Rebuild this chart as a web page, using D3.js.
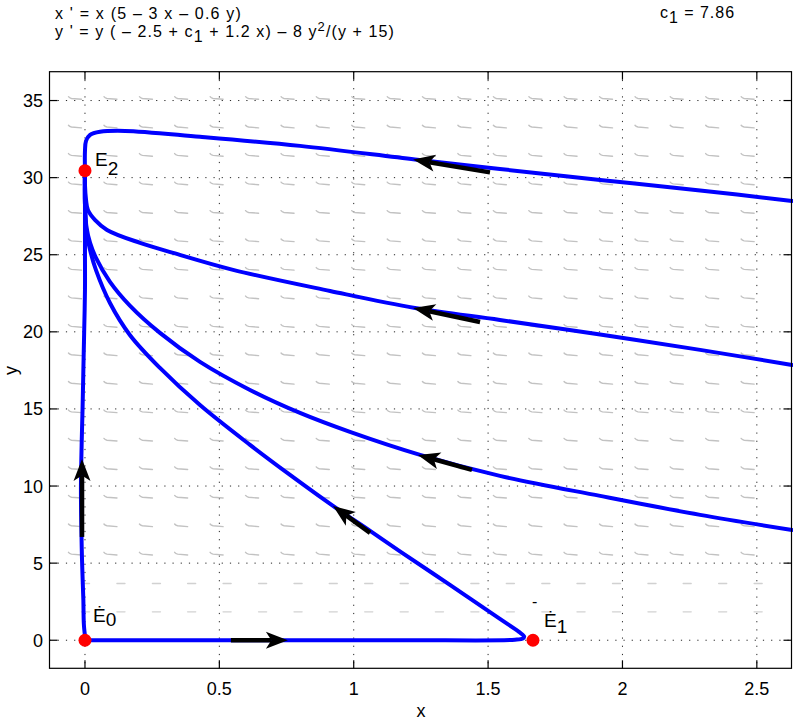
<!DOCTYPE html>
<html><head><meta charset="utf-8">
<script src="https://cdn.jsdelivr.net/npm/d3@7"></script>
<style>
body{margin:0;background:#fff}
svg{display:block}
text{font-family:"Liberation Sans",Arial,Helvetica,sans-serif;fill:#000}
</style>
</head><body><svg id="c" width="793" height="720"></svg>
<script>
// ---------- data ----------
const xDomain=[-0.132,2.629];
const yDomain=[-1.82,36.87];
const xTicks=[0,0.5,1,1.5,2,2.5];
const xTickLabels=["0","0.5","1","1.5","2","2.5"];
const yTicks=[0,5,10,15,20,25,30,35];
const yTickLabels=["0","5","10","15","20","25","30","35"];

// direction-field grid
const fieldX=[-0.013,0.119,0.251,0.382,0.514,0.646,0.778,0.909,1.041,1.173,1.304,1.436,1.568,1.700,1.831,1.963,2.095,2.226,2.358,2.490];
const fieldY=[1.84,3.68,5.53,7.37,9.22,11.07,12.92,14.76,16.61,18.46,20.30,22.15,24.00,25.85,27.69,29.54,31.39,33.23,35.08];

// trajectories (x, y)
const traj1=[[2.631,28.49],[2.289,29.17],[1.917,29.85],[1.544,30.56],[1.228,31.18],[0.800,32.06],[0.428,32.65],[0.149,33.03],[0.056,32.97],[0.019,32.77],[0.004,32.38],[0.0,31.73],[0.0,30.47]];
const traj2=[[2.631,17.85],[2.289,18.83],[1.917,19.83],[1.544,20.77],[1.228,21.55],[0.912,22.65],[0.551,24.02],[0.328,25.12],[0.205,25.77],[0.082,26.61],[0.037,27.26],[0.011,27.90],[0.004,28.55],[0.0,29.52],[0.0,30.43]];
const traj3=[[2.631,7.15],[2.289,8.13],[1.917,9.36],[1.544,10.66],[1.247,12.02],[0.986,13.51],[0.800,14.74],[0.614,16.23],[0.428,18.05],[0.279,19.93],[0.167,21.70],[0.093,23.24],[0.041,24.79],[0.019,25.77],[0.006,26.74],[0.0,28.3],[0.0,30.43]];
const traj4=[[0.002,0.0],[0.428,0.0],[1.172,0.006],[1.600,0.03],[1.630,0.12],[1.634,0.25],[1.615,0.54],[1.544,1.38],[1.358,3.59],[1.172,5.76],[1.061,7.09],[0.923,8.71],[0.763,10.72],[0.614,12.67],[0.428,15.25],[0.279,17.66],[0.167,19.80],[0.093,21.87],[0.041,24.0],[0.019,25.3],[0.006,26.48],[0.0,28.3],[0.0,30.43]];
const traj5=[[0.002,0.0],[-0.004,0.99],[-0.006,2.61],[-0.011,5.21],[-0.014,7.80],[-0.015,10.0],[-0.012,12.99],[-0.009,14.99],[-0.006,17.53],[-0.003,19.99],[0.0,22.72],[0.0,25.31],[0.0,30.43]];
const trajectories=[traj1,traj2,traj3,traj4,traj5];

// black direction arrows: tail and tip
const arrowTails=[[1.507,30.34],[1.470,20.64],[1.440,11.05],[1.061,6.96],[0.543,0.0],[-0.011,6.70]];
const arrowTips=[[1.221,31.18],[1.221,21.55],[1.239,12.02],[0.923,8.71],[0.755,0.0],[-0.011,11.76]];

// equilibria
const eqX=[0,1.667,0];
const eqY=[0,0,30.45];

// ---------- drawing ----------
const svg=d3.select("#c");
const L=49.5,R=791.5,T=71.7,B=668.3;
const x=d3.scaleLinear().domain(xDomain).range([L,R]);
const y=d3.scaleLinear().domain(yDomain).range([B,T]);

// grid (dotted)
const grid=svg.append("g");
grid.selectAll("line.gx").data(xTicks).join("line")
  .attr("x1",d=>x(d)).attr("x2",d=>x(d)).attr("y1",T).attr("y2",B)
  .attr("stroke","#000").attr("stroke-width",1).attr("stroke-dasharray","1.2,7").attr("opacity",0.85);
grid.selectAll("line.gy").data(yTicks).join("line")
  .attr("y1",d=>y(d)).attr("y2",d=>y(d)).attr("x1",L).attr("x2",R)
  .attr("stroke","#000").attr("stroke-width",1).attr("stroke-dasharray","1.2,7").attr("opacity",0.85);

// direction field
const fieldG=svg.append("g").attr("stroke","#c2c2c2").attr("fill","none").attr("stroke-width",1.4).attr("stroke-linecap","round");
fieldY.forEach(fy=>{
  fieldX.forEach(fx=>{
    const px=x(fx), py=y(fy);
    const small = fy<5;
    const len = small?8:13;
    if(small){
      fieldG.append("path").attr("d",`M${px},${py}L${px+len},${py}`).attr("opacity",0.75);
    } else {
      const tx=px-len, ty=py-1.0;
      fieldG.append("path").attr("d",`M${px},${py}L${tx+3},${ty+0.2}Q${tx+1},${ty-0.2} ${tx},${ty-1.6}`);
    }
  });
});

// trajectories
const line=d3.line().x(d=>x(d[0])).y(d=>y(d[1])).curve(d3.curveCatmullRom.alpha(0.5));
svg.append("g").selectAll("path").data(trajectories).join("path")
  .attr("d",line).attr("fill","none").attr("stroke","#0000ff").attr("stroke-width",4)
  .attr("stroke-linejoin","round").attr("stroke-linecap","round");

// arrows
const ag=svg.append("g");
arrowTails.forEach((t,i)=>{
  const p0=[x(t[0]),y(t[1])], p1=[x(arrowTips[i][0]),y(arrowTips[i][1])];
  const ang=Math.atan2(p1[1]-p0[1],p1[0]-p0[0]);
  const hl=22, hw=8.5;
  const ux=Math.cos(ang), uy=Math.sin(ang);
  const bx=p1[0]-ux*hl*0.75, by=p1[1]-uy*hl*0.75;
  ag.append("line").attr("x1",p0[0]).attr("y1",p0[1]).attr("x2",bx).attr("y2",by)
    .attr("stroke","#000").attr("stroke-width",4.5);
  const c1=[p1[0]-ux*hl-uy*hw, p1[1]-uy*hl+ux*hw];
  const c2=[p1[0]-ux*hl+uy*hw, p1[1]-uy*hl-ux*hw];
  ag.append("path").attr("d",`M${p1[0]},${p1[1]}L${c1[0]},${c1[1]}L${bx},${by}L${c2[0]},${c2[1]}Z`).attr("fill","#000");
});

// equilibria
svg.append("g").selectAll("circle").data(eqX).join("circle")
  .attr("cx",d=>x(d)).attr("cy",(d,i)=>y(eqY[i])).attr("r",6.5).attr("fill","#ff0000");

// axes box + ticks (inward, all four sides)
const ax=svg.append("g").attr("stroke","#000").attr("stroke-width",1.2);
ax.append("rect").attr("x",L).attr("y",T).attr("width",R-L).attr("height",B-T).attr("fill","none");
xTicks.forEach(t=>{
  ax.append("line").attr("x1",x(t)).attr("x2",x(t)).attr("y1",B).attr("y2",B-8);
  ax.append("line").attr("x1",x(t)).attr("x2",x(t)).attr("y1",T).attr("y2",T+8);
});
yTicks.forEach(t=>{
  ax.append("line").attr("y1",y(t)).attr("y2",y(t)).attr("x1",L).attr("x2",L+8);
  ax.append("line").attr("y1",y(t)).attr("y2",y(t)).attr("x1",R).attr("x2",R-8);
});

// tick labels
svg.append("g").selectAll("text").data(xTicks).join("text")
  .attr("x",d=>x(d)).attr("y",695).attr("text-anchor","middle").attr("font-size",18)
  .text((d,i)=>xTickLabels[i]);
svg.append("g").selectAll("text").data(yTicks).join("text")
  .attr("x",43).attr("y",d=>y(d)+6.5).attr("text-anchor","end").attr("font-size",18)
  .text((d,i)=>yTickLabels[i]);

// axis labels
svg.append("text").attr("x",x(1.25)).attr("y",717).attr("text-anchor","middle").attr("font-size",18).text("x");
svg.append("text").attr("transform",`translate(16.5,${y(17.5)}) rotate(-90)`).attr("text-anchor","middle").attr("font-size",18).text("y");

// equilibrium labels
function label(xp,yp,main,sub,subDy){
  const t=svg.append("text").attr("x",xp).attr("y",yp).attr("font-size",19);
  t.append("tspan").text(main);
  t.append("tspan").attr("dy",subDy).text(sub);
}
label(95,165.5,"E","2",9);
label(93,622,"Ė","0",4);
label(544,627,"Ė","1",6);
svg.append("text").attr("x",532).attr("y",607).attr("font-size",16).text("-");

// title
function fit(sel,w){
  const n=sel.text().length;
  const cur=sel.node().getComputedTextLength();
  sel.attr("letter-spacing",((w-cur)/n).toFixed(3));
}
const t1=svg.append("text").attr("x",55).attr("y",19).attr("font-size",16).text("x ' = x (5 – 3 x – 0.6 y)");
fit(t1,187);
const t2=svg.append("text").attr("x",55).attr("y",37).attr("font-size",16);
t2.append("tspan").text("y ' = y ( – 2.5 + c");
t2.append("tspan").attr("dy",5).text("1");
t2.append("tspan").attr("dy",-5).text(" + 1.2 x) – 8 y");
t2.append("tspan").attr("dy",-6).attr("font-size",13).text("2");
t2.append("tspan").attr("dy",6).text("/(y + 15)");
fit(t2,340);
const t3=svg.append("text").attr("x",660).attr("y",18).attr("font-size",16);
t3.append("tspan").text("c");
t3.append("tspan").attr("dy",5).text("1");
t3.append("tspan").attr("dy",-5).text(" = 7.86");
fit(t3,75);
</script>
</body></html>
